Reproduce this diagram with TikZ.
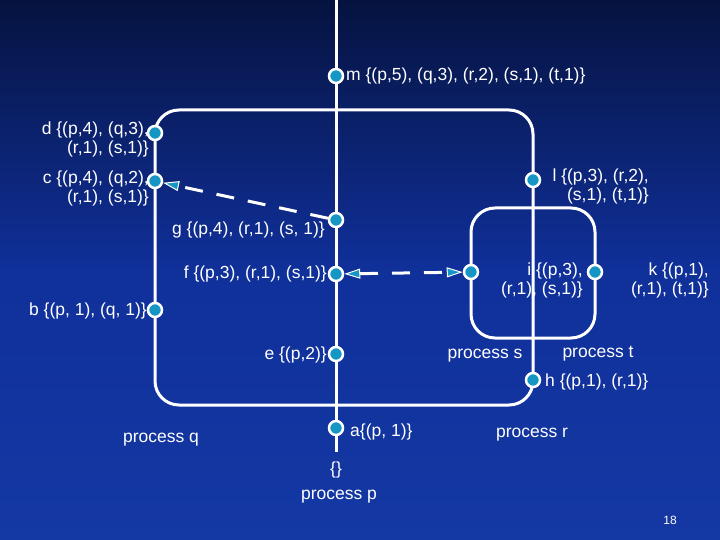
\documentclass[tikz,border=0pt]{standalone}
\usepackage{fontspec}
\setmainfont{Liberation Sans}
\usetikzlibrary{arrows.meta}
\definecolor{dot}{HTML}{1596C4}
\definecolor{bgtop}{HTML}{061340}
\definecolor{bgmid}{HTML}{10309A}
\definecolor{bgbot}{HTML}{1438A4}
\begin{document}
\begin{tikzpicture}[x=1pt,y=-1pt,
  ev/.style={circle,draw=white,fill=dot,line width=2.5pt,minimum size=14pt,inner sep=0pt},
  lbl/.style={text=white,font=\fontsize{17.5}{19}\selectfont,inner sep=1pt,align=right},
  ln/.style={white,line width=3pt},
  msg/.style={white,line width=3pt,dash pattern=on 18pt off 14pt,
    -{Triangle[length=16pt,width=10pt,fill=dot,line width=1pt]}}]
\shade[top color=bgtop, bottom color=bgbot, middle color=bgmid] (0,0) rectangle (720,540);
\useasboundingbox (0,0) rectangle (720,540);
% process lines
\draw[ln] (336,0) -- (336,452);
\draw[ln,rounded corners=24pt] (155,110) rectangle (533,405);
\draw[ln,rounded corners=24pt] (471,208) rectangle (595,338);
% events
\node[ev] (m) at (336,76) {};
\node[ev] (d) at (155,133) {};
\node[ev] (c) at (155,181) {};
\node[ev] (g) at (336,220) {};
\node[ev] (f) at (336,274) {};
\node[ev] (b) at (155,310) {};
\node[ev] (e) at (336,354) {};
\node[ev] (a) at (336,428) {};
\node[ev] (l) at (533,180) {};
\node[ev] (i) at (471,272) {};
\node[ev] (k) at (595,272) {};
\node[ev] (h) at (533,380) {};
% messages
\draw[msg] (g) -- (c);
\draw[msg,{Triangle[length=16pt,width=10pt,fill=dot,line width=1pt]}-{Triangle[length=16pt,width=10pt,fill=dot,line width=1pt]}] (f) -- (i);
% labels
\node[lbl,anchor=west] (tm) at (345,76) {m \{(p,5), (q,3), (r,2), (s,1), (t,1)\}};
\node[lbl,anchor=north east] (td) at (150,121) {d \{(p,4), (q,3),\\(r,1), (s,1)\}};
\node[lbl,anchor=north east] (tc) at (150,170) {c \{(p,4), (q,2),\\(r,1), (s,1)\}};
\node[lbl,anchor=north east] (tl) at (650,168) {l \{(p,3), (r,2),\\(s,1), (t,1)\}};
\node[lbl,anchor=east] (tg) at (326,230) {g \{(p,4), (r,1), (s, 1)\}};
\node[lbl,anchor=east] (tf) at (328,274) {f \{(p,3), (r,1), (s,1)\}};
\node[lbl,anchor=north east] (ti) at (584,262) {i \{(p,3),\\(r,1), (s,1)\}};
\node[lbl,anchor=north east] (tk) at (710,262) {k \{(p,1),\\(r,1), (t,1)\}};
\node[lbl,anchor=east] (tb) at (148,311) {b \{(p, 1), (q, 1)\}};
\node[lbl,anchor=east] (te) at (328,355) {e \{(p,2)\}};
\node[lbl] (ps) at (485,356) {process s};
\node[lbl] (pt) at (598,354) {process t};
\node[lbl,anchor=west] (th) at (544,382) {h \{(p,1), (r,1)\}};
\node[lbl] (pq) at (161,440) {process q};
\node[lbl,anchor=west] (ta) at (349,432) {a\{(p, 1)\}};
\node[lbl] (pr) at (532,435) {process r};
\node[lbl] (tn) at (336,470) {\{\}};
\node[lbl] (pp) at (339,497) {process p};
\node[lbl,font=\fontsize{12}{13}\selectfont] (pg) at (670,520) {18};
\end{tikzpicture}
\end{document}
